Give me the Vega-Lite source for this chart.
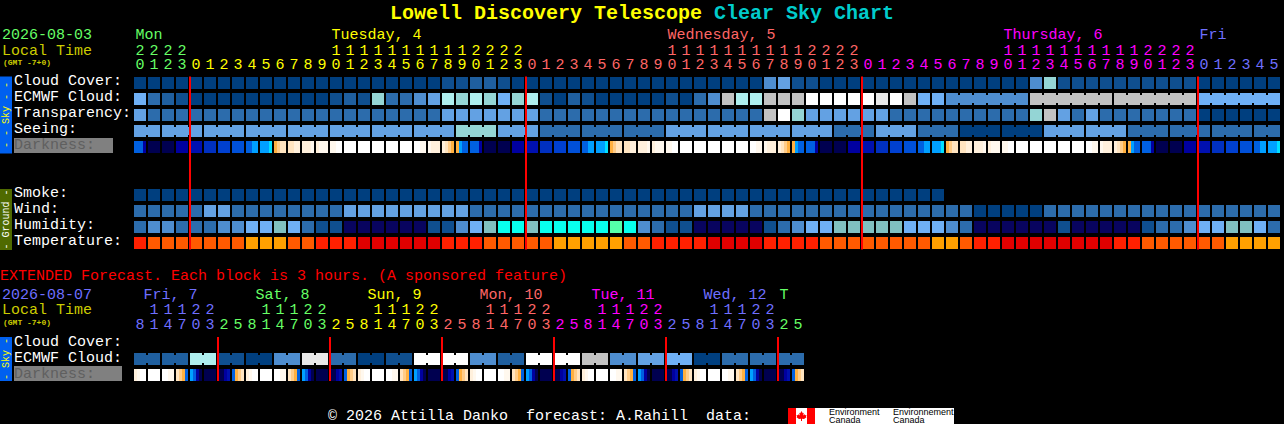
{
  "$schema": "https://vega.github.io/schema/vega-lite/v6.json",
  "width": 1284,
  "height": 424,
  "padding": 0,
  "autosize": {"type": "none"},
  "background": "#000000",
  "view": {"stroke": null},
  "config": {"text": {"font": "Liberation Mono", "fontSize": 15, "align": "left", "baseline": "middle"}},
  "datasets": {
    "hourly": [
      {"col":0,"tens":"2","units":"0","tone":"green","cloud":"b0","ecmwf":"b6","transp":"b5","seeing":"b5","smoke":"b0","wind":"b3","humid":"b3","temp":"t1","s1":"e0","s2":"e0","s3":"e0","s4":"e5"},
      {"col":1,"tens":"2","units":"1","tone":"green","cloud":"b0","ecmwf":"b3","transp":"b3","seeing":"b5","smoke":"b0","wind":"b3","humid":"b4","temp":"t2","s1":"e6","s2":"e6","s3":"e6","s4":"e6"},
      {"col":2,"tens":"2","units":"2","tone":"green","cloud":"b0","ecmwf":"b2","transp":"b3","seeing":"b5","smoke":"b0","wind":"b3","humid":"b4","temp":"t2","s1":"e6","s2":"e6","s3":"e6","s4":"e6"},
      {"col":3,"tens":"2","units":"3","tone":"green","cloud":"b0","ecmwf":"b1","transp":"b3","seeing":"b5","smoke":"b0","wind":"b3","humid":"b3","temp":"t2","s1":"e5","s2":"e5","s3":"e5","s4":"e5"},
      {"col":4,"units":"0","tone":"yellow","cloud":"b0","ecmwf":"b0","transp":"b3","seeing":"b5","smoke":"b0","wind":"b3","humid":"b3","temp":"t2","s1":"e4","s2":"e4","s3":"e4","s4":"e4"},
      {"col":5,"units":"1","tone":"yellow","cloud":"b0","ecmwf":"b0","transp":"b3","seeing":"b5","smoke":"b0","wind":"b5","humid":"b3","temp":"t2","s1":"e3","s2":"e3","s3":"e3","s4":"e3"},
      {"col":6,"units":"2","tone":"yellow","cloud":"b0","ecmwf":"b0","transp":"b3","seeing":"b5","smoke":"b0","wind":"b5","humid":"b4","temp":"t2","s1":"e2","s2":"e2","s3":"e2","s4":"e2"},
      {"col":7,"units":"3","tone":"yellow","cloud":"b0","ecmwf":"b0","transp":"b3","seeing":"b5","smoke":"b0","wind":"b3","humid":"b4","temp":"t2","s1":"e1","s2":"e1","s3":"e1","s4":"e1"},
      {"col":8,"units":"4","tone":"yellow","cloud":"b0","ecmwf":"b0","transp":"b3","seeing":"b5","smoke":"b0","wind":"b3","humid":"b6","temp":"t3","s1":"e0","s2":"e0","s3":"sk","s4":"sk"},
      {"col":9,"units":"5","tone":"yellow","cloud":"b0","ecmwf":"b0","transp":"b3","seeing":"b5","smoke":"b0","wind":"b3","humid":"b6","temp":"t3","s1":"sk","s2":"sk","s3":"sk","s4":"cn"},
      {"col":10,"units":"6","tone":"yellow","cloud":"b0","ecmwf":"b0","transp":"b3","seeing":"b5","smoke":"b0","wind":"b3","humid":"se","temp":"t3","s1":"d5","s2":"d4","s3":"d3","s4":"d3"},
      {"col":11,"units":"7","tone":"yellow","cloud":"b0","ecmwf":"b0","transp":"b3","seeing":"b5","smoke":"b0","wind":"b3","humid":"b6","temp":"t2","s1":"d3","s2":"d3","s3":"d2","s4":"d2"},
      {"col":12,"units":"8","tone":"yellow","cloud":"b0","ecmwf":"b0","transp":"b3","seeing":"b5","smoke":"b0","wind":"b3","humid":"b3","temp":"t2","s1":"d2","s2":"d2","s3":"d2","s4":"d1"},
      {"col":13,"units":"9","tone":"yellow","cloud":"b0","ecmwf":"b0","transp":"b3","seeing":"b5","smoke":"b0","wind":"b3","humid":"b1","temp":"t1","s1":"d2","s2":"d1","s3":"d1","s4":"d1"},
      {"col":14,"tens":"1","units":"0","tone":"yellow","cloud":"b0","ecmwf":"b1","transp":"b3","seeing":"b5","smoke":"b0","wind":"b3","humid":"b1","temp":"t1","s1":"d1","s2":"d1","s3":"d0","s4":"d0"},
      {"col":15,"tens":"1","units":"1","tone":"yellow","cloud":"b0","ecmwf":"b2","transp":"b3","seeing":"b5","smoke":"b0","wind":"b5","humid":"nv","temp":"t1","s1":"d0","s2":"d0","s3":"d0","s4":"d0"},
      {"col":16,"tens":"1","units":"2","tone":"yellow","cloud":"b0","ecmwf":"b1","transp":"b3","seeing":"b5","smoke":"b0","wind":"b5","humid":"nv","temp":"t0","s1":"d0","s2":"d0","s3":"d0","s4":"d0"},
      {"col":17,"tens":"1","units":"3","tone":"yellow","cloud":"b0","ecmwf":"tl","transp":"b3","seeing":"b5","smoke":"b0","wind":"b5","humid":"nv","temp":"t0","s1":"d0","s2":"d0","s3":"d0","s4":"d0"},
      {"col":18,"tens":"1","units":"4","tone":"yellow","cloud":"b0","ecmwf":"b3","transp":"b3","seeing":"b5","smoke":"b0","wind":"b5","humid":"nv","temp":"t0","s1":"d0","s2":"d0","s3":"d0","s4":"d0"},
      {"col":19,"tens":"1","units":"5","tone":"yellow","cloud":"b0","ecmwf":"b3","transp":"b3","seeing":"b5","smoke":"b0","wind":"b5","humid":"nv","temp":"t0","s1":"d0","s2":"d0","s3":"d0","s4":"d0"},
      {"col":20,"tens":"1","units":"6","tone":"yellow","cloud":"b0","ecmwf":"b4","transp":"b3","seeing":"b5","smoke":"b0","wind":"b5","humid":"nv","temp":"t0","s1":"d0","s2":"d0","s3":"d1","s4":"d1"},
      {"col":21,"tens":"1","units":"7","tone":"yellow","cloud":"b0","ecmwf":"b5","transp":"b3","seeing":"b5","smoke":"b0","wind":"b5","humid":"b1","temp":"t0","s1":"d1","s2":"d2","s3":"d2","s4":"d2"},
      {"col":22,"tens":"1","units":"8","tone":"yellow","cloud":"b1","ecmwf":"pl","transp":"b5","seeing":"b5","smoke":"b0","wind":"b5","humid":"b1","temp":"t1","s1":"d2","s2":"d3","s3":"d4","s4":"d5"},
      {"col":23,"tens":"1","units":"9","tone":"yellow","cloud":"b1","ecmwf":"tl","transp":"b5","seeing":"tl","smoke":"b0","wind":"b5","humid":"b4","temp":"t1","s1":"d5","s2":"sk","s3":"e0","s4":"e0"},
      {"col":24,"tens":"2","units":"0","tone":"yellow","cloud":"b2","ecmwf":"pl","transp":"b5","seeing":"tl","smoke":"b0","wind":"b3","humid":"b6","temp":"t1","s1":"e0","s2":"e0","s3":"e0","s4":"e5"},
      {"col":25,"tens":"2","units":"1","tone":"yellow","cloud":"b2","ecmwf":"tl","transp":"b5","seeing":"tl","smoke":"b0","wind":"b3","humid":"se","temp":"t2","s1":"e6","s2":"e6","s3":"e6","s4":"e6"},
      {"col":26,"tens":"2","units":"2","tone":"yellow","cloud":"b1","ecmwf":"b6","transp":"b5","seeing":"b5","smoke":"b0","wind":"b3","humid":"cy","temp":"t2","s1":"e6","s2":"e6","s3":"e6","s4":"e6"},
      {"col":27,"tens":"2","units":"3","tone":"yellow","cloud":"b0","ecmwf":"tl","transp":"b5","seeing":"b5","smoke":"b0","wind":"b3","humid":"cy","temp":"t2","s1":"e5","s2":"e5","s3":"e5","s4":"e5"},
      {"col":28,"units":"0","tone":"salmon","cloud":"b0","ecmwf":"pl","transp":"b5","seeing":"b5","smoke":"b0","wind":"b3","humid":"se","temp":"t2","s1":"e4","s2":"e4","s3":"e4","s4":"e4"},
      {"col":29,"units":"1","tone":"salmon","cloud":"b0","ecmwf":"b1","transp":"b3","seeing":"b3","smoke":"b0","wind":"b3","humid":"cy","temp":"t2","s1":"e3","s2":"e3","s3":"e3","s4":"e3"},
      {"col":30,"units":"2","tone":"salmon","cloud":"b0","ecmwf":"b0","transp":"b3","seeing":"b3","smoke":"b0","wind":"b3","humid":"cy","temp":"t3","s1":"e2","s2":"e2","s3":"e2","s4":"e2"},
      {"col":31,"units":"3","tone":"salmon","cloud":"b0","ecmwf":"b2","transp":"b3","seeing":"b3","smoke":"b0","wind":"b3","humid":"cy","temp":"t3","s1":"e1","s2":"e1","s3":"e1","s4":"e1"},
      {"col":32,"units":"4","tone":"salmon","cloud":"b0","ecmwf":"b1","transp":"b3","seeing":"b3","smoke":"b0","wind":"b3","humid":"cy","temp":"t3","s1":"e0","s2":"e0","s3":"sk","s4":"sk"},
      {"col":33,"units":"5","tone":"salmon","cloud":"b0","ecmwf":"b0","transp":"b3","seeing":"b3","smoke":"b0","wind":"b3","humid":"cy","temp":"t3","s1":"sk","s2":"sk","s3":"sk","s4":"cn"},
      {"col":34,"units":"6","tone":"salmon","cloud":"b0","ecmwf":"b0","transp":"b3","seeing":"b3","smoke":"b0","wind":"b3","humid":"mi","temp":"t3","s1":"d5","s2":"d4","s3":"d3","s4":"d3"},
      {"col":35,"units":"7","tone":"salmon","cloud":"b0","ecmwf":"b0","transp":"b3","seeing":"b3","smoke":"b0","wind":"b3","humid":"cy","temp":"t2","s1":"d3","s2":"d3","s3":"d2","s4":"d2"},
      {"col":36,"units":"8","tone":"salmon","cloud":"b0","ecmwf":"b0","transp":"b3","seeing":"b3","smoke":"b0","wind":"b3","humid":"b4","temp":"t2","s1":"d2","s2":"d2","s3":"d2","s4":"d1"},
      {"col":37,"units":"9","tone":"salmon","cloud":"b0","ecmwf":"b0","transp":"b3","seeing":"b3","smoke":"b0","wind":"b3","humid":"b3","temp":"t1","s1":"d2","s2":"d1","s3":"d1","s4":"d1"},
      {"col":38,"tens":"1","units":"0","tone":"salmon","cloud":"b0","ecmwf":"b1","transp":"b3","seeing":"b5","smoke":"b0","wind":"b3","humid":"b1","temp":"t1","s1":"d1","s2":"d1","s3":"d0","s4":"d0"},
      {"col":39,"tens":"1","units":"1","tone":"salmon","cloud":"b0","ecmwf":"b0","transp":"b3","seeing":"b5","smoke":"b0","wind":"b3","humid":"b1","temp":"t1","s1":"d0","s2":"d0","s3":"d0","s4":"d0"},
      {"col":40,"tens":"1","units":"2","tone":"salmon","cloud":"b0","ecmwf":"b3","transp":"b3","seeing":"b5","smoke":"b0","wind":"b5","humid":"nv","temp":"t1","s1":"d0","s2":"d0","s3":"d0","s4":"d0"},
      {"col":41,"tens":"1","units":"3","tone":"salmon","cloud":"b0","ecmwf":"b4","transp":"b3","seeing":"b5","smoke":"b0","wind":"b5","humid":"nv","temp":"t0","s1":"d0","s2":"d0","s3":"d0","s4":"d0"},
      {"col":42,"tens":"1","units":"4","tone":"salmon","cloud":"b0","ecmwf":"gy","transp":"b3","seeing":"b5","smoke":"b0","wind":"b5","humid":"nv","temp":"t0","s1":"d0","s2":"d0","s3":"d0","s4":"d0"},
      {"col":43,"tens":"1","units":"5","tone":"salmon","cloud":"b0","ecmwf":"pl","transp":"b3","seeing":"b5","smoke":"b0","wind":"b5","humid":"nv","temp":"t0","s1":"d0","s2":"d0","s3":"d0","s4":"d0"},
      {"col":44,"tens":"1","units":"6","tone":"salmon","cloud":"b0","ecmwf":"pl","transp":"b3","seeing":"b5","smoke":"b0","wind":"b3","humid":"nv","temp":"t0","s1":"d0","s2":"d0","s3":"d1","s4":"d1"},
      {"col":45,"tens":"1","units":"7","tone":"salmon","cloud":"b4","ecmwf":"gy","transp":"gy","seeing":"b5","smoke":"b0","wind":"b3","humid":"b1","temp":"t1","s1":"d1","s2":"d2","s3":"d2","s4":"d2"},
      {"col":46,"tens":"1","units":"8","tone":"salmon","cloud":"b5","ecmwf":"gy","transp":"wh","seeing":"b5","smoke":"b0","wind":"b3","humid":"b3","temp":"t1","s1":"d2","s2":"d3","s3":"d4","s4":"d5"},
      {"col":47,"tens":"1","units":"9","tone":"salmon","cloud":"b1","ecmwf":"gy","transp":"tl","seeing":"b5","smoke":"b0","wind":"b3","humid":"b4","temp":"t1","s1":"d5","s2":"sk","s3":"e0","s4":"e0"},
      {"col":48,"tens":"2","units":"0","tone":"salmon","cloud":"b1","ecmwf":"wh","transp":"b5","seeing":"b5","smoke":"b0","wind":"b3","humid":"b6","temp":"t1","s1":"e0","s2":"e0","s3":"e0","s4":"e5"},
      {"col":49,"tens":"2","units":"1","tone":"salmon","cloud":"b0","ecmwf":"wh","transp":"b5","seeing":"b5","smoke":"b0","wind":"b3","humid":"b6","temp":"t2","s1":"e6","s2":"e6","s3":"e6","s4":"e6"},
      {"col":50,"tens":"2","units":"2","tone":"salmon","cloud":"b0","ecmwf":"wh","transp":"b5","seeing":"b3","smoke":"b0","wind":"b3","humid":"se","temp":"t2","s1":"e6","s2":"e6","s3":"e6","s4":"e6"},
      {"col":51,"tens":"2","units":"3","tone":"salmon","cloud":"b0","ecmwf":"wh","transp":"b5","seeing":"b3","smoke":"b0","wind":"b3","humid":"se","temp":"t2","s1":"e5","s2":"e5","s3":"e5","s4":"e5"},
      {"col":52,"units":"0","tone":"magenta","cloud":"b0","ecmwf":"wh","transp":"b5","seeing":"b3","smoke":"b0","wind":"b3","humid":"se","temp":"t2","s1":"e4","s2":"e4","s3":"e4","s4":"e4"},
      {"col":53,"units":"1","tone":"magenta","cloud":"b0","ecmwf":"sv","transp":"b5","seeing":"b5","smoke":"b0","wind":"b3","humid":"se","temp":"t2","s1":"e3","s2":"e3","s3":"e3","s4":"e3"},
      {"col":54,"units":"2","tone":"magenta","cloud":"b0","ecmwf":"wh","transp":"b3","seeing":"b5","smoke":"b0","wind":"b3","humid":"se","temp":"t2","s1":"e2","s2":"e2","s3":"e2","s4":"e2"},
      {"col":55,"units":"3","tone":"magenta","cloud":"b0","ecmwf":"gy","transp":"b3","seeing":"b5","smoke":"b0","wind":"b3","humid":"b6","temp":"t2","s1":"e1","s2":"e1","s3":"e1","s4":"e1"},
      {"col":56,"units":"4","tone":"magenta","cloud":"b0","ecmwf":"b6","transp":"b3","seeing":"b3","smoke":"b0","wind":"b3","humid":"b6","temp":"t2","s1":"e0","s2":"e0","s3":"sk","s4":"sk"},
      {"col":57,"units":"5","tone":"magenta","cloud":"b0","ecmwf":"b6","transp":"b3","seeing":"b3","smoke":"b0","wind":"b3","humid":"b6","temp":"t3","s1":"sk","s2":"sk","s3":"sk","s4":"cn"},
      {"col":58,"units":"6","tone":"magenta","cloud":"b0","ecmwf":"b4","transp":"b3","seeing":"b3","wind":"b3","humid":"b4","temp":"t3","s1":"d5","s2":"d4","s3":"d3","s4":"d3"},
      {"col":59,"units":"7","tone":"magenta","cloud":"b0","ecmwf":"b4","transp":"b3","seeing":"b0","wind":"b3","humid":"b3","temp":"t2","s1":"d3","s2":"d3","s3":"d2","s4":"d2"},
      {"col":60,"units":"8","tone":"magenta","cloud":"b0","ecmwf":"b4","transp":"b3","seeing":"b0","wind":"b0","humid":"nv","temp":"t1","s1":"d2","s2":"d2","s3":"d2","s4":"d1"},
      {"col":61,"units":"9","tone":"magenta","cloud":"b0","ecmwf":"b4","transp":"b3","seeing":"b0","wind":"b0","humid":"nv","temp":"t1","s1":"d2","s2":"d1","s3":"d1","s4":"d1"},
      {"col":62,"tens":"1","units":"0","tone":"magenta","cloud":"b0","ecmwf":"b4","transp":"b3","seeing":"b0","wind":"b0","humid":"nv","temp":"t0","s1":"d1","s2":"d1","s3":"d0","s4":"d0"},
      {"col":63,"tens":"1","units":"1","tone":"magenta","cloud":"b0","ecmwf":"b4","transp":"b3","seeing":"b0","wind":"b0","humid":"nv","temp":"t0","s1":"d0","s2":"d0","s3":"d0","s4":"d0"},
      {"col":64,"tens":"1","units":"2","tone":"magenta","cloud":"b4","ecmwf":"gy","transp":"tl","seeing":"b0","wind":"b0","humid":"nv","temp":"t0","s1":"d0","s2":"d0","s3":"d0","s4":"d0"},
      {"col":65,"tens":"1","units":"3","tone":"magenta","cloud":"tl","ecmwf":"gy","transp":"gy","seeing":"b5","wind":"b3","humid":"nv","temp":"t0","s1":"d0","s2":"d0","s3":"d0","s4":"d0"},
      {"col":66,"tens":"1","units":"4","tone":"magenta","cloud":"b1","ecmwf":"gy","transp":"b5","seeing":"b5","wind":"b3","humid":"b1","temp":"t0","s1":"d0","s2":"d0","s3":"d0","s4":"d0"},
      {"col":67,"tens":"1","units":"5","tone":"magenta","cloud":"b1","ecmwf":"gy","transp":"b3","seeing":"b5","wind":"b3","humid":"nv","temp":"t0","s1":"d0","s2":"d0","s3":"d0","s4":"d0"},
      {"col":68,"tens":"1","units":"6","tone":"magenta","cloud":"b1","ecmwf":"gy","transp":"b5","seeing":"b5","wind":"b3","humid":"nv","temp":"t0","s1":"d0","s2":"d0","s3":"d1","s4":"d1"},
      {"col":69,"tens":"1","units":"7","tone":"magenta","cloud":"b1","ecmwf":"gy","transp":"b3","seeing":"b5","wind":"b3","humid":"nv","temp":"t0","s1":"d1","s2":"d2","s3":"d2","s4":"d2"},
      {"col":70,"tens":"1","units":"8","tone":"magenta","cloud":"b1","ecmwf":"gy","transp":"b3","seeing":"b5","wind":"b3","humid":"nv","temp":"t1","s1":"d2","s2":"d3","s3":"d4","s4":"d5"},
      {"col":71,"tens":"1","units":"9","tone":"magenta","cloud":"b1","ecmwf":"gy","transp":"b3","seeing":"b3","wind":"b3","humid":"nv","temp":"t1","s1":"d5","s2":"sk","s3":"e0","s4":"e0"},
      {"col":72,"tens":"2","units":"0","tone":"magenta","cloud":"b1","ecmwf":"gy","transp":"b3","seeing":"b3","wind":"b3","humid":"b1","temp":"t2","s1":"e0","s2":"e0","s3":"e0","s4":"e5"},
      {"col":73,"tens":"2","units":"1","tone":"magenta","cloud":"b1","ecmwf":"gy","transp":"b3","seeing":"b3","wind":"b3","humid":"b3","temp":"t2","s1":"e6","s2":"e6","s3":"e6","s4":"e6"},
      {"col":74,"tens":"2","units":"2","tone":"magenta","cloud":"b1","ecmwf":"gy","transp":"b3","seeing":"b3","wind":"b3","humid":"b3","temp":"t2","s1":"e6","s2":"e6","s3":"e6","s4":"e6"},
      {"col":75,"tens":"2","units":"3","tone":"magenta","cloud":"b1","ecmwf":"gy","transp":"b3","seeing":"b3","wind":"b3","humid":"b4","temp":"t2","s1":"e5","s2":"e5","s3":"e5","s4":"e5"},
      {"col":76,"units":"0","tone":"violet","cloud":"b0","ecmwf":"b6","transp":"b0","seeing":"b3","wind":"b3","humid":"b6","temp":"t2","s1":"e4","s2":"e4","s3":"e4","s4":"e4"},
      {"col":77,"units":"1","tone":"violet","cloud":"b0","ecmwf":"b6","transp":"b0","seeing":"b3","wind":"b3","humid":"b6","temp":"t2","s1":"e3","s2":"e3","s3":"e3","s4":"e3"},
      {"col":78,"units":"2","tone":"violet","cloud":"b0","ecmwf":"b6","transp":"b0","seeing":"b3","wind":"b3","humid":"se","temp":"t3","s1":"e2","s2":"e2","s3":"e2","s4":"e2"},
      {"col":79,"units":"3","tone":"violet","cloud":"b0","ecmwf":"b6","transp":"b0","seeing":"b3","wind":"b3","humid":"se","temp":"t3","s1":"e1","s2":"e1","s3":"e1","s4":"e1"},
      {"col":80,"units":"4","tone":"violet","cloud":"b0","ecmwf":"b6","transp":"b0","seeing":"b3","wind":"b3","humid":"b6","temp":"t3","s1":"e0","s2":"e0","s3":"sk","s4":"sk"},
      {"col":81,"units":"5","tone":"violet","cloud":"b0","ecmwf":"b6","transp":"b0","seeing":"b3","wind":"b3","humid":"b3","temp":"t3","s1":"sk","s2":"sk","s3":"sk","s4":"cn"}
    ],
    "extended": [
      {"col":0,"units":"8","tone":"violet","xecmwf":"b2","s1":"d2","s2":"d1","s3":"d0","s4":"d0"},
      {"col":1,"tens":"1","units":"1","tone":"violet","xecmwf":"b2","s1":"d0","s2":"d0","s3":"d0","s4":"d0"},
      {"col":2,"tens":"1","units":"4","tone":"violet","xecmwf":"b2","s1":"d0","s2":"d0","s3":"d1","s4":"d1"},
      {"col":3,"tens":"1","units":"7","tone":"violet","xecmwf":"b2","s1":"d3","s2":"d4","s3":"d5","s4":"e0"},
      {"col":4,"tens":"2","units":"0","tone":"violet","xecmwf":"pl","s1":"sk","s2":"e0","s3":"e5","s4":"e6"},
      {"col":5,"tens":"2","units":"3","tone":"violet","xecmwf":"pl","s1":"e6","s2":"e6","s3":"e6","s4":"e6"},
      {"col":6,"units":"2","tone":"green","xecmwf":"b1","s1":"e6","s2":"e6","s3":"e5","s4":"e4"},
      {"col":7,"units":"5","tone":"green","xecmwf":"b1","s1":"e0","s2":"d5","s3":"d4","s4":"d3"},
      {"col":8,"units":"8","tone":"green","xecmwf":"b0","s1":"d2","s2":"d1","s3":"d0","s4":"d0"},
      {"col":9,"tens":"1","units":"1","tone":"green","xecmwf":"b0","s1":"d0","s2":"d0","s3":"d0","s4":"d0"},
      {"col":10,"tens":"1","units":"4","tone":"green","xecmwf":"b4","s1":"d0","s2":"d0","s3":"d1","s4":"d1"},
      {"col":11,"tens":"1","units":"7","tone":"green","xecmwf":"b4","s1":"d3","s2":"d4","s3":"d5","s4":"e0"},
      {"col":12,"tens":"2","units":"0","tone":"green","xecmwf":"sv","s1":"sk","s2":"e0","s3":"e5","s4":"e6"},
      {"col":13,"tens":"2","units":"3","tone":"green","xecmwf":"sv","s1":"e6","s2":"e6","s3":"e6","s4":"e6"},
      {"col":14,"units":"2","tone":"yellow","xecmwf":"b3","s1":"e6","s2":"e6","s3":"e5","s4":"e4"},
      {"col":15,"units":"5","tone":"yellow","xecmwf":"b3","s1":"e0","s2":"d5","s3":"d4","s4":"d3"},
      {"col":16,"units":"8","tone":"yellow","xecmwf":"b0","s1":"d2","s2":"d1","s3":"d0","s4":"d0"},
      {"col":17,"tens":"1","units":"1","tone":"yellow","xecmwf":"b0","s1":"d0","s2":"d0","s3":"d0","s4":"d0"},
      {"col":18,"tens":"1","units":"4","tone":"yellow","xecmwf":"b1","s1":"d0","s2":"d0","s3":"d1","s4":"d1"},
      {"col":19,"tens":"1","units":"7","tone":"yellow","xecmwf":"b1","s1":"d3","s2":"d4","s3":"d5","s4":"e0"},
      {"col":20,"tens":"2","units":"0","tone":"yellow","xecmwf":"wh","s1":"sk","s2":"e0","s3":"e5","s4":"e6"},
      {"col":21,"tens":"2","units":"3","tone":"yellow","xecmwf":"wh","s1":"e6","s2":"e6","s3":"e6","s4":"e6"},
      {"col":22,"units":"2","tone":"salmon","xecmwf":"wh","s1":"e6","s2":"e6","s3":"e5","s4":"e4"},
      {"col":23,"units":"5","tone":"salmon","xecmwf":"wh","s1":"e0","s2":"d5","s3":"d4","s4":"d3"},
      {"col":24,"units":"8","tone":"salmon","xecmwf":"b4","s1":"d2","s2":"d1","s3":"d0","s4":"d0"},
      {"col":25,"tens":"1","units":"1","tone":"salmon","xecmwf":"b4","s1":"d0","s2":"d0","s3":"d0","s4":"d0"},
      {"col":26,"tens":"1","units":"4","tone":"salmon","xecmwf":"b2","s1":"d0","s2":"d0","s3":"d1","s4":"d1"},
      {"col":27,"tens":"1","units":"7","tone":"salmon","xecmwf":"b2","s1":"d3","s2":"d4","s3":"d5","s4":"e0"},
      {"col":28,"tens":"2","units":"0","tone":"salmon","xecmwf":"wh","s1":"sk","s2":"e0","s3":"e5","s4":"e6"},
      {"col":29,"tens":"2","units":"3","tone":"salmon","xecmwf":"wh","s1":"e6","s2":"e6","s3":"e6","s4":"e6"},
      {"col":30,"units":"2","tone":"magenta","xecmwf":"wh","s1":"e6","s2":"e6","s3":"e5","s4":"e4"},
      {"col":31,"units":"5","tone":"magenta","xecmwf":"wh","s1":"e0","s2":"d5","s3":"d4","s4":"d3"},
      {"col":32,"units":"8","tone":"magenta","xecmwf":"gy","s1":"d2","s2":"d1","s3":"d0","s4":"d0"},
      {"col":33,"tens":"1","units":"1","tone":"magenta","xecmwf":"gy","s1":"d0","s2":"d0","s3":"d0","s4":"d0"},
      {"col":34,"tens":"1","units":"4","tone":"magenta","xecmwf":"b4","s1":"d0","s2":"d0","s3":"d1","s4":"d1"},
      {"col":35,"tens":"1","units":"7","tone":"magenta","xecmwf":"b4","s1":"d3","s2":"d4","s3":"d5","s4":"e0"},
      {"col":36,"tens":"2","units":"0","tone":"magenta","xecmwf":"b5","s1":"sk","s2":"e0","s3":"e5","s4":"e6"},
      {"col":37,"tens":"2","units":"3","tone":"magenta","xecmwf":"b5","s1":"e6","s2":"e6","s3":"e6","s4":"e6"},
      {"col":38,"units":"2","tone":"violet","xecmwf":"b6","s1":"e6","s2":"e6","s3":"e5","s4":"e4"},
      {"col":39,"units":"5","tone":"violet","xecmwf":"b6","s1":"e0","s2":"d5","s3":"d4","s4":"d3"},
      {"col":40,"units":"8","tone":"violet","xecmwf":"b0","s1":"d2","s2":"d1","s3":"d0","s4":"d0"},
      {"col":41,"tens":"1","units":"1","tone":"violet","xecmwf":"b0","s1":"d0","s2":"d0","s3":"d0","s4":"d0"},
      {"col":42,"tens":"1","units":"4","tone":"violet","xecmwf":"b3","s1":"d0","s2":"d0","s3":"d1","s4":"d1"},
      {"col":43,"tens":"1","units":"7","tone":"violet","xecmwf":"b3","s1":"d3","s2":"d4","s3":"d5","s4":"e0"},
      {"col":44,"tens":"2","units":"0","tone":"violet","xecmwf":"b3","s1":"sk","s2":"e0","s3":"e5","s4":"e6"},
      {"col":45,"tens":"2","units":"3","tone":"violet","xecmwf":"b3","s1":"e6","s2":"e6","s3":"e6","s4":"e6"},
      {"col":46,"units":"2","tone":"green","xecmwf":"b3","s1":"e6","s2":"e6","s3":"e5","s4":"e4"},
      {"col":47,"units":"5","tone":"green","xecmwf":"b3","s1":"e0","s2":"d5","s3":"d4","s4":"d3"}
    ]
  },
  "encoding": {
    "x": {
      "field": "col",
      "type": "ordinal",
      "axis": null,
      "scale": {
        "type": "band",
        "domain": [-9,-8,-7,-6,-5,-4,-3,-2,-1,0,1,2,3,4,5,6,7,8,9,10,11,12,13,14,15,16,17,18,19,20,21,22,23,24,25,26,27,28,29,30,31,32,33,34,35,36,37,38,39,40,41,42,43,44,45,46,47,48,49,50,51,52,53,54,55,56,57,58,59,60,61,62,63,64,65,66,67,68,69,70,71,72,73,74,75,76,77,78,79,80,81],
        "range": [8, 1280],
        "paddingInner": 0.142857,
        "paddingOuter": 0
      }
    },
    "y": {
      "field": "row",
      "type": "nominal",
      "axis": null,
      "scale": {
        "type": "band",
        "domain": ["top","title","day","tens","units","cloud","ecmwf","transp","seeing","dark","gapA","gapB","smoke","wind","humid","temp","gapC","ext","xday","xtens","xunits","xcloud","xecmwf","xdark","gapD","gapE","foot"],
        "range": [-5, 427],
        "paddingInner": 0,
        "paddingOuter": 0
      }
    },
    "color": {
      "field": "level",
      "type": "nominal",
      "legend": null,
      "scale": {
        "domain": ["b0","b1","b2","b3","b4","b5","b6","tl","pl","gy","sv","wh","nv","se","cy","mi","t0","t1","t2","t3","d0","d1","d2","d3","d4","d5","cn","sk","e0","e1","e2","e3","e4","e5","e6","green","yellow","salmon","magenta","violet","olive","teal","red","dim","slate","skybar","groundbar","black"],
        "range": ["#003f7f","#0f4f8f","#1f5f9f","#2c6cac","#4e8dcf","#63a1e3","#6fb0f5","#94d5d5","#aeeeee","#c2c2c2","#e8e8e8","#ffffff","#08045f","#80c0c0","#08ffee","#55ffaa","#e00000","#ff2000","#ff5a00","#ffa000","#ffffff","#fff8ee","#fff0dc","#ffe4c0","#ffcc88","#ffb040","#00e0ff","#00a0ff","#0060e0","#0050d8","#0040d0","#0030c0","#0010b0","#0000a0","#000050","#66ff66","#ffff00","#ff6666","#ff00ff","#6f6fff","#cccc00","#00cccc","#ff0000","#5f5f5f","#808080","#0060f0","#4f6a00","#000000"]
      }
    }
  },
  "layer": [
    {
      "data": {"values": [{"col":-9,"row":"transp","level":"skybar"}]},
      "mark": {"type":"tick","orient":"vertical","opacity":1,"thickness":12,"size":77,"xOffset":-8}
    },
    {
      "data": {"values": [{"col":-9,"row":"xecmwf","level":"skybar"}]},
      "mark": {"type":"tick","orient":"vertical","opacity":1,"thickness":12,"size":44,"xOffset":-8,"yOffset":4}
    },
    {
      "data": {"values": [{"col":-9,"row":"wind","level":"groundbar"}]},
      "mark": {"type":"tick","orient":"vertical","opacity":1,"thickness":12,"size":61,"xOffset":-8,"yOffset":8.5}
    },
    {
      "data": {"values": [{"col":-5,"row":"dark","level":"slate"}]},
      "mark": {"type":"tick","orient":"vertical","opacity":1,"thickness":99,"size":15,"xOffset":-6.5,"yOffset":-1.5}
    },
    {
      "data": {"values": [{"col":-5,"row":"xdark","level":"slate"}]},
      "mark": {"type":"tick","orient":"vertical","opacity":1,"thickness":108,"size":15,"xOffset":-2,"yOffset":2.5}
    },
    {
      "data": {"name": "hourly"},
      "transform": [
        {"fold":["cloud","ecmwf","transp","seeing","smoke","wind","humid","temp"],"as":["row","level"]},
        {"filter":"isValid(datum.level)"}
      ],
      "mark": {"type":"rect","height":{"band":0.75}}
    },
    {
      "data": {"name": "hourly"},
      "transform": [
        {"fold":["ecmwf","seeing"],"as":["row","level"]},
        {"filter":"datum.col<81 && ((datum.row=='seeing' && (datum.col-1)%3!=0) || (datum.row=='ecmwf' && datum.col>=58 && (datum.col-57)%6!=0))"}
      ],
      "mark": {"type":"tick","orient":"vertical","opacity":1,"thickness":4,"size":8},
      "encoding": {"x": {"field":"col","type":"ordinal","axis":null,"bandPosition":1.0833}}
    },
    {
      "data": {"name": "hourly"},
      "transform": [
        {"fold":["s1","s2","s3","s4"],"as":["slice","level"]},
        {"calculate":"'dark'","as":"row"}
      ],
      "mark": {"type":"rect","height":{"band":0.75}},
      "encoding": {"xOffset": {"field":"slice","type":"nominal"}}
    },
    {
      "data": {"name": "extended"},
      "transform": [
        {"fold":["xecmwf"],"as":["row","level"]}
      ],
      "mark": {"type":"rect","height":{"band":0.75},"yOffset":4}
    },
    {
      "data": {"name": "extended"},
      "transform": [
        {"fold":["xecmwf"],"as":["row","level"]},
        {"filter":"datum.col%2==0"}
      ],
      "mark": {"type":"tick","orient":"vertical","opacity":1,"thickness":4,"size":8,"yOffset":4},
      "encoding": {"x": {"field":"col","type":"ordinal","axis":null,"bandPosition":1.0833}}
    },
    {
      "data": {"name": "extended"},
      "transform": [
        {"fold":["s1","s2","s3","s4"],"as":["slice","level"]},
        {"calculate":"'xdark'","as":"row"}
      ],
      "mark": {"type":"rect","height":{"band":0.75},"yOffset":4},
      "encoding": {"xOffset": {"field":"slice","type":"nominal"}}
    },
    {
      "data": {"values": [{"col":4,"row":"gapA","level":"red"},{"col":28,"row":"gapA","level":"red"},{"col":52,"row":"gapA","level":"red"},{"col":76,"row":"gapA","level":"red"}]},
      "mark": {"type":"tick","orient":"vertical","opacity":1,"thickness":2,"size":173},
      "encoding": {"x": {"field":"col","type":"ordinal","axis":null,"bandPosition":0}}
    },
    {
      "data": {"values": [{"col":6,"row":"xecmwf","level":"red"},{"col":14,"row":"xecmwf","level":"red"},{"col":22,"row":"xecmwf","level":"red"},{"col":30,"row":"xecmwf","level":"red"},{"col":38,"row":"xecmwf","level":"red"},{"col":46,"row":"xecmwf","level":"red"}]},
      "mark": {"type":"tick","orient":"vertical","opacity":1,"thickness":2,"size":44,"yOffset":4},
      "encoding": {"x": {"field":"col","type":"ordinal","axis":null,"bandPosition":0}}
    },
    {
      "data": {"values": [{"col":18,"row":"title","text":"Lowell Discovery Telescope","level":"yellow"}]},
      "mark": {"type":"text","fontWeight":"bold","fontSize":20,"dx":-2,"dy":-6},
      "encoding": {"text": {"field":"text"}}
    },
    {
      "data": {"values": [{"col":41,"row":"title","text":"Clear Sky Chart","level":"teal"}]},
      "mark": {"type":"text","fontWeight":"bold","fontSize":20,"dx":0,"dy":-6},
      "encoding": {"text": {"field":"text"}}
    },
    {
      "data": {"values": [
        {"col":0,"row":"day","text":"Mon","level":"green"},
        {"col":14,"row":"day","text":"Tuesday, 4","level":"yellow"},
        {"col":38,"row":"day","text":"Wednesday, 5","level":"salmon"},
        {"col":62,"row":"day","text":"Thursday, 6","level":"magenta"},
        {"col":76,"row":"day","text":"Fri","level":"violet"}
      ]},
      "mark": {"type":"text","dx":-4.5,"dy":-1},
      "encoding": {"text": {"field":"text"}}
    },
    {
      "data": {"values": [{"col":-9,"row":"day","text":"2026-08-03","level":"green"}]},
      "mark": {"type":"text","dx":-12,"dy":-1},
      "encoding": {"text": {"field":"text"}}
    },
    {
      "data": {"values": [{"col":-9,"row":"tens","text":"Local Time","level":"olive"}]},
      "mark": {"type":"text","dx":-12,"dy":-1.5},
      "encoding": {"text": {"field":"text"}}
    },
    {
      "data": {"values": [{"col":-9,"row":"units","text":"(GMT -7+0)","level":"olive"}]},
      "mark": {"type":"text","dx":-11,"dy":-4.5,"fontSize":8,"fontWeight":"bold"},
      "encoding": {"text": {"field":"text"}}
    },
    {
      "data": {"name": "hourly"},
      "transform": [{"filter":"datum.tens"},{"calculate":"'tens'","as":"row"}],
      "mark": {"type":"text","dx":-4.5,"dy":-1.5},
      "encoding": {"text": {"field":"tens"},"color": {"field":"tone","type":"nominal","legend":null}}
    },
    {
      "data": {"name": "hourly"},
      "transform": [{"calculate":"'units'","as":"row"}],
      "mark": {"type":"text","dx":-4.5,"dy":-3},
      "encoding": {"text": {"field":"units"},"color": {"field":"tone","type":"nominal","legend":null}}
    },
    {
      "data": {"values": [
        {"col":-9,"row":"cloud","text":"Cloud Cover:","level":"wh"},
        {"col":-9,"row":"ecmwf","text":"ECMWF Cloud:","level":"wh"},
        {"col":-9,"row":"transp","text":"Transparency:","level":"wh"},
        {"col":-9,"row":"seeing","text":"Seeing:","level":"wh"},
        {"col":-9,"row":"dark","text":"Darkness:","level":"dim"},
        {"col":-9,"row":"smoke","text":"Smoke:","level":"wh"},
        {"col":-9,"row":"wind","text":"Wind:","level":"wh"},
        {"col":-9,"row":"humid","text":"Humidity:","level":"wh"},
        {"col":-9,"row":"temp","text":"Temperature:","level":"wh"}
      ]},
      "mark": {"type":"text","dy":-3},
      "encoding": {"text": {"field":"text"}}
    },
    {
      "data": {"values": [{"col":-9,"row":"transp","text":"- - Sky - -","level":"yellow"}]},
      "mark": {"type":"text","fontSize":10,"angle":270,"align":"center","xOffset":-8},
      "encoding": {"text": {"field":"text"}}
    },
    {
      "data": {"values": [{"col":-9,"row":"wind","text":"- Ground -","level":"wh"}]},
      "mark": {"type":"text","fontSize":10,"angle":270,"align":"center","xOffset":-8,"yOffset":8.5},
      "encoding": {"text": {"field":"text"}}
    },
    {
      "data": {"values": [{"col":-9,"row":"xecmwf","text":"- Sky -","level":"yellow"}]},
      "mark": {"type":"text","fontSize":10,"angle":270,"align":"center","xOffset":-8,"yOffset":4},
      "encoding": {"text": {"field":"text"}}
    },
    {
      "data": {"values": [{"col":-9,"row":"ext","text":"EXTENDED Forecast. Each block is 3 hours. (A sponsored feature)","level":"red"}]},
      "mark": {"type":"text","dx":-14,"dy":0},
      "encoding": {"text": {"field":"text"}}
    },
    {
      "data": {"values": [{"col":-9,"row":"xday","text":"2026-08-07","level":"violet"}]},
      "mark": {"type":"text","dx":-12,"dy":3},
      "encoding": {"text": {"field":"text"}}
    },
    {
      "data": {"values": [
        {"col":1,"row":"xday","text":"Fri, 7","level":"violet"},
        {"col":9,"row":"xday","text":"Sat, 8","level":"green"},
        {"col":17,"row":"xday","text":"Sun, 9","level":"yellow"},
        {"col":25,"row":"xday","text":"Mon, 10","level":"salmon"},
        {"col":33,"row":"xday","text":"Tue, 11","level":"magenta"},
        {"col":41,"row":"xday","text":"Wed, 12","level":"violet"}
      ]},
      "mark": {"type":"text","dx":-10.5,"dy":3},
      "encoding": {"text": {"field":"text"}}
    },
    {
      "data": {"values": [{"col":46,"row":"xday","text":"T","level":"green"}]},
      "mark": {"type":"text","dx":-4.5,"dy":3},
      "encoding": {"text": {"field":"text"}}
    },
    {
      "data": {"values": [{"col":-9,"row":"xtens","text":"Local Time","level":"olive"}]},
      "mark": {"type":"text","dx":-12,"dy":2},
      "encoding": {"text": {"field":"text"}}
    },
    {
      "data": {"values": [{"col":-9,"row":"xunits","text":"(GMT -7+0)","level":"olive"}]},
      "mark": {"type":"text","dx":-11,"dy":-0.5,"fontSize":8,"fontWeight":"bold"},
      "encoding": {"text": {"field":"text"}}
    },
    {
      "data": {"name": "extended"},
      "transform": [{"filter":"datum.tens"},{"calculate":"'xtens'","as":"row"}],
      "mark": {"type":"text","dx":-4.5,"dy":2},
      "encoding": {"text": {"field":"tens"},"color": {"field":"tone","type":"nominal","legend":null}}
    },
    {
      "data": {"name": "extended"},
      "transform": [{"calculate":"'xunits'","as":"row"}],
      "mark": {"type":"text","dx":-4.5,"dy":1},
      "encoding": {"text": {"field":"units"},"color": {"field":"tone","type":"nominal","legend":null}}
    },
    {
      "data": {"values": [
        {"col":-9,"row":"xcloud","text":"Cloud Cover:","level":"wh"},
        {"col":-9,"row":"xecmwf","text":"ECMWF Cloud:","level":"wh"},
        {"col":-9,"row":"xdark","text":"Darkness:","level":"dim"}
      ]},
      "mark": {"type":"text","dy":1.5},
      "encoding": {"text": {"field":"text"}}
    },
    {
      "data": {"values": [{"col":14,"row":"foot","text":"© 2026 Attilla Danko\u00a0\u00a0forecast: A.Rahill\u00a0\u00a0data:","level":"wh"}]},
      "mark": {"type":"text","dx":-8,"dy":-4},
      "encoding": {"text": {"field":"text"}}
    },
    {
      "data": {"values": [{"col":52,"row":"foot","level":"wh"}]},
      "mark": {"type":"tick","orient":"vertical","opacity":1,"thickness":166,"size":16,"xOffset":3,"yOffset":-3}
    },
    {
      "data": {"values": [{"col":47,"row":"foot","level":"red"}]},
      "mark": {"type":"tick","orient":"vertical","opacity":1,"thickness":8,"size":16,"xOffset":-6,"yOffset":-3}
    },
    {
      "data": {"values": [{"col":48,"row":"foot","level":"red"}]},
      "mark": {"type":"tick","orient":"vertical","opacity":1,"thickness":8,"size":16,"xOffset":-1,"yOffset":-3}
    },
    {
      "data": {"values": [{"col":47,"row":"foot","level":"red"}]},
      "mark": {"type":"point","filled":true,"opacity":1,"size":100,"xOffset":3.5,"yOffset":-3,"shape":"M0,-1L0.25,-0.55L0.45,-0.65L0.35,-0.1L0.65,-0.35L0.75,-0.15L1,-0.2L0.9,0.15L1,0.25L0.5,0.6L0.1,0.55L0.1,1L-0.1,1L-0.1,0.55L-0.5,0.6L-1,0.25L-0.9,0.15L-1,-0.2L-0.75,-0.15L-0.65,-0.35L-0.35,-0.1L-0.45,-0.65L-0.25,-0.55Z"}
    },
    {
      "data": {"values": [{"col":49,"row":"foot","text":"Environment","level":"black"}]},
      "mark": {"type":"text","font":"Liberation Sans","fontSize":9,"dx":3,"dy":-7},
      "encoding": {"text": {"field":"text"}}
    },
    {
      "data": {"values": [{"col":49,"row":"foot","text":"Canada","level":"black"}]},
      "mark": {"type":"text","font":"Liberation Sans","fontSize":9,"dx":3,"dy":1},
      "encoding": {"text": {"field":"text"}}
    },
    {
      "data": {"values": [{"col":54,"row":"foot","text":"Environnement","level":"black"}]},
      "mark": {"type":"text","font":"Liberation Sans","fontSize":9,"dx":-3,"dy":-7},
      "encoding": {"text": {"field":"text"}}
    },
    {
      "data": {"values": [{"col":54,"row":"foot","text":"Canada","level":"black"}]},
      "mark": {"type":"text","font":"Liberation Sans","fontSize":9,"dx":-3,"dy":1},
      "encoding": {"text": {"field":"text"}}
    }
  ]
}
